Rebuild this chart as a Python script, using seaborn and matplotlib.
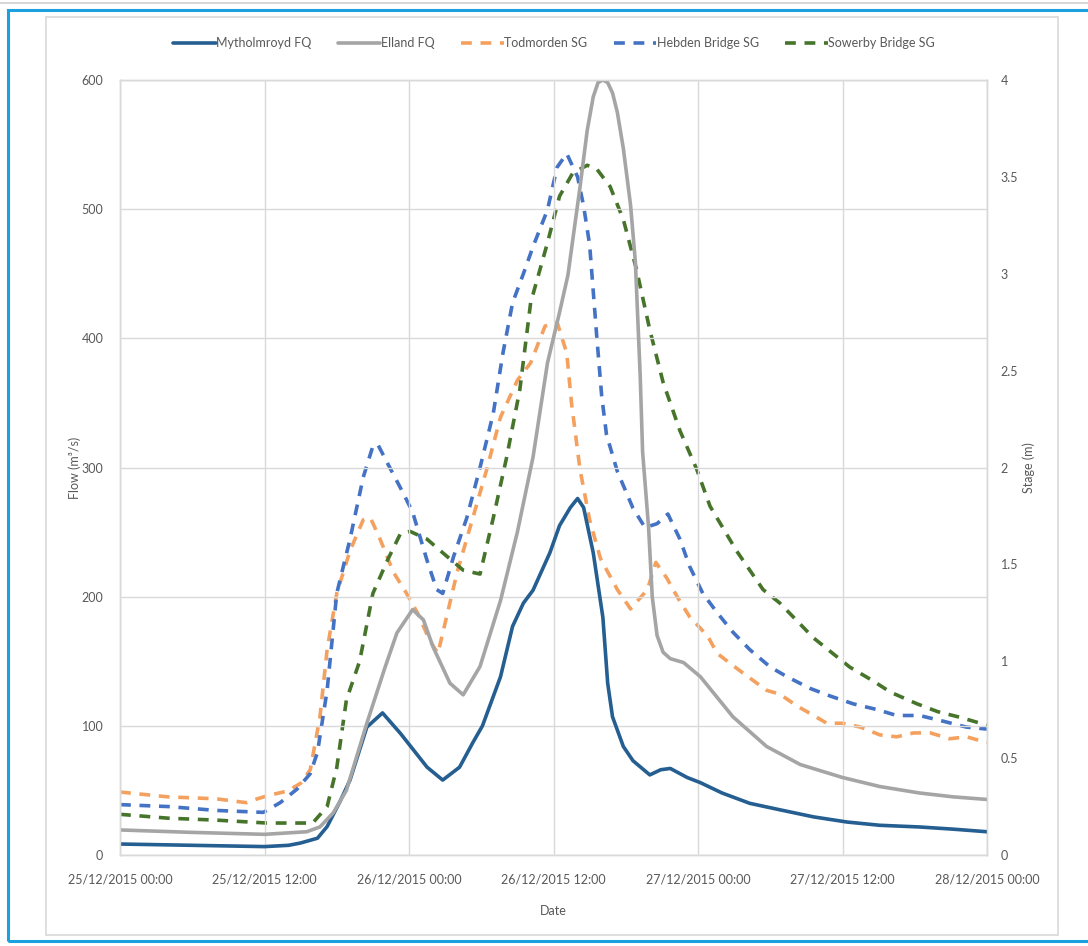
import numpy as np
import pandas as pd
import matplotlib
matplotlib.use("Agg")
import matplotlib.pyplot as plt
import matplotlib.dates as mdates
from matplotlib.patches import Rectangle
from matplotlib.lines import Line2D
from matplotlib.ticker import FuncFormatter, MultipleLocator
import seaborn as sns

# ---------------- data (hours after 25/12/2015 00:00) ----------------
START = pd.Timestamp("2015-12-25 00:00")
END = pd.Timestamp("2015-12-28 00:00")

myth_hours = [0, 6, 12, 14, 15, 16.4, 17.2, 18.3, 19.1, 20.5, 21.8, 23.3, 25.5, 26.8, 28.2,
              29.3, 30.1, 31.6, 32.6, 33.5, 34.3, 35.7, 36.5, 37.4, 38, 38.5, 39.3, 40.1,
              40.5, 40.9, 41.8, 42.6, 44, 44.9, 45.7, 47.1, 48.2, 50, 52.3, 54.8, 57.6,
              60.4, 63.1, 66.4, 69.2, 72]
myth_flow = [8.5, 7.5, 6.5, 7.5, 9.3, 13, 22, 42, 58, 99, 110, 94, 68, 58, 68,
             87, 100, 138, 177, 195, 205, 234, 255, 269, 276, 269, 234, 184,
             133, 107, 84, 73, 62, 66, 67, 60, 56, 48, 40, 35, 29.5,
             25.5, 23, 21.7, 20, 18]

elland_hours = [0, 6, 12, 15.5, 16.6, 17.7, 18.8, 20.5, 22, 23, 24.3, 25.2, 26, 27.4, 28.5,
                29.9, 31.6, 33, 34.3, 35.5, 36.5, 37.2, 38.2, 38.8, 39.3, 39.7, 40.1, 40.5,
                40.9, 41.3, 41.8, 42.4, 42.8, 43.2, 43.4, 43.9, 44.2, 44.6, 45.1, 45.7, 46.8,
                48.2, 50.9, 53.7, 56.5, 60, 63.1, 66.4, 69.2, 72]
elland_flow = [19.4, 17.5, 16, 18, 21.7, 32.5, 50, 102, 145, 172, 190, 182, 161, 133, 124,
               146, 197, 250, 308, 381, 420, 449, 517, 561, 587, 598, 600, 598,
               590, 575, 547, 503, 459, 371, 312, 253, 200, 170, 157, 152, 149,
               138, 107, 84, 70, 60, 53, 48, 45, 43]

tod_hours = [0, 4, 8, 10.5, 11.4, 12.5, 13.9, 15, 15.8, 16.6, 17.2, 18, 19.1, 20.2, 20.8,
             21.6, 22.7, 23.8, 24.7, 25.7, 26.4, 27.2, 28, 29.3, 30.5, 31.6, 33, 34.1,
             35.3, 36.3, 37.1, 37.5, 38.2, 39, 39.9, 41.3, 42.4, 43.8, 44.5, 45.4, 46.3,
             47.3, 48.8, 49.6, 51.5, 53.7, 54.8, 56.2, 57.6, 58.7, 60, 61.5, 63.1, 64.5,
             65.9, 67.3, 68.9, 70.3, 72]
tod_stage = [0.325, 0.30, 0.29, 0.27, 0.29, 0.31, 0.33, 0.37, 0.44, 0.71, 1.06, 1.35, 1.57, 1.73, 1.74,
             1.63, 1.46, 1.35, 1.25, 1.11, 1.04, 1.25, 1.46, 1.74, 2.0, 2.26, 2.45, 2.54,
             2.73, 2.75, 2.59, 2.33, 1.99, 1.73, 1.53, 1.37, 1.27, 1.37, 1.51, 1.43, 1.33,
             1.23, 1.13, 1.04, 0.95, 0.85, 0.83, 0.77, 0.72, 0.68, 0.68, 0.66, 0.62, 0.61,
             0.63, 0.63, 0.60, 0.61, 0.58]

heb_hours = [0, 4, 8, 11.9, 13.3, 14.7, 15.8, 16.4, 17.2, 18, 19.1, 20.2, 21, 21.4, 22.4,
             23.5, 24.3, 25.5, 26.3, 26.8, 27.7, 28.8, 29.9, 31, 31.8, 32.6, 33.5, 34.3,
             35.5, 36.3, 37.1, 38, 38.5, 39.0, 39.6, 40.0, 40.4, 41.3, 42.6, 43.6, 44.6,
             45.5, 46.5, 47.3, 48.4, 49.6, 50.9, 52.3, 54, 55.4, 57.3, 59, 60.9, 62.9, 64.5,
             66.4, 68.4, 70.3, 72]
heb_stage = [0.26, 0.25, 0.23, 0.22, 0.27, 0.34, 0.42, 0.53, 0.85, 1.35, 1.63, 1.95, 2.11, 2.12, 2.0,
             1.87, 1.77, 1.52, 1.37, 1.35, 1.54, 1.74, 2.0, 2.28, 2.59, 2.85, 3.0, 3.14,
             3.33, 3.55, 3.62, 3.5, 3.35, 3.15, 2.67, 2.37, 2.17, 1.98, 1.79, 1.69, 1.71,
             1.76, 1.63, 1.49, 1.35, 1.25, 1.15, 1.06, 0.97, 0.92, 0.86, 0.82, 0.78, 0.75, 0.72,
             0.72, 0.69, 0.66, 0.65]

sow_hours = [0, 4, 8, 12.2, 16, 17.2, 18, 18.8, 19.9, 21, 22.2, 23.3, 24.1, 25.5, 26.8,
             28.5, 29.9, 31, 32.1, 33.2, 34.1, 35.5, 36.5, 37.6, 38.8, 39.6, 40.7, 41.8,
             42.9, 44, 45.1, 46.5, 47.9, 49, 51.2, 53.4, 54.8, 57.6, 59.2, 60.6, 62.5,
             64, 66.2, 67.9, 69.8, 72]
sow_stage = [0.21, 0.19, 0.18, 0.165, 0.165, 0.25, 0.45, 0.8, 1.0, 1.35, 1.52, 1.66, 1.67, 1.63, 1.56,
             1.47, 1.45, 1.74, 2.05, 2.4, 2.85, 3.16, 3.4, 3.52, 3.56, 3.54, 3.45, 3.28,
             3.02, 2.71, 2.44, 2.19, 1.99, 1.8, 1.57, 1.37, 1.30, 1.12, 1.04, 0.97, 0.9,
             0.84, 0.78, 0.74, 0.71, 0.67]

flow_series = [("Mytholmroyd FQ", myth_hours, myth_flow, "#255e91"),
               ("Elland FQ", elland_hours, elland_flow, "#a5a5a5")]
stage_series = [("Todmorden SG", tod_hours, tod_stage, "#f4a15f"),
                ("Hebden Bridge SG", heb_hours, heb_stage, "#4472c4"),
                ("Sowerby Bridge SG", sow_hours, sow_stage, "#47742b")]

# ---------------- style ----------------
sns.set_style("white")
plt.rcParams["font.family"] = ["Lato", "DejaVu Sans"]
TXT = "#595959"
GRID = "#d9d9d9"
FS = 9.0

fig = plt.figure(figsize=(10.88, 9.46), dpi=100)
ax = fig.add_axes([120 / 1088, 1 - 855 / 946, (987 - 120) / 1088, (855 - 80) / 946])
ax2 = ax.twinx()

def to_df(hours, vals):
    return pd.DataFrame({"time": START + pd.to_timedelta(np.array(hours), unit="h"),
                         "value": vals})

dash = (0, (3.0, 2.4))
for name, hrs, vals, col in stage_series:
    sns.lineplot(data=to_df(hrs, vals), x="time", y="value", ax=ax2, color=col,
                 linewidth=2.6, linestyle=dash, label=name, estimator=None, sort=False)
for name, hrs, vals, col in flow_series:
    sns.lineplot(data=to_df(hrs, vals), x="time", y="value", ax=ax, color=col,
                 linewidth=2.6, label=name, estimator=None, sort=False)

ax.set_zorder(ax2.get_zorder() + 1)
ax.patch.set_visible(False)

ax.set_xlim(START, END)
ax.set_ylim(0, 600)
ax2.set_ylim(0, 4)
ax.yaxis.set_major_locator(MultipleLocator(100))
ax2.yaxis.set_major_locator(MultipleLocator(0.5))
ax2.yaxis.set_major_formatter(FuncFormatter(lambda v, p: f"{v:g}"))
ax.xaxis.set_major_locator(mdates.HourLocator(byhour=[0, 12]))
ax.xaxis.set_major_formatter(mdates.DateFormatter("%d/%m/%Y %H:%M"))

ax.grid(True, color=GRID, linewidth=1.0)
ax2.grid(False)
for a in (ax, ax2):
    for s in a.spines.values():
        s.set_color(GRID)
        s.set_linewidth(1.0)
    a.tick_params(length=0, labelsize=FS, labelcolor=TXT)
ax.tick_params(axis="y", pad=12)
ax.tick_params(axis="x", pad=13)
ax2.tick_params(axis="y", pad=10)

ax.set_xlabel("Date", fontsize=FS, color=TXT, labelpad=14)
ax.set_ylabel("Flow (m³/s)", fontsize=FS, color=TXT, labelpad=0)
ax2.set_ylabel("Stage (m)", fontsize=FS, color=TXT, labelpad=3)

for a in (ax, ax2):
    lg = a.get_legend()
    if lg is not None:
        lg.remove()

handles = [Line2D([], [], color=c, lw=2.6) for _, _, _, c in flow_series] + \
          [Line2D([], [], color=c, lw=2.6, linestyle=dash) for _, _, _, c in stage_series]
labels = [n for n, _, _, _ in flow_series] + [n for n, _, _, _ in stage_series]
fig.legend(handles, labels, loc="center", bbox_to_anchor=(554 / 1088, 1 - 43 / 946),
           ncol=5, frameon=False, fontsize=FS, handlelength=3.4, handletextpad=0.05,
           columnspacing=2.1, labelcolor=TXT)

# decorative frames
fig.add_artist(Line2D([0, 1], [1 - 3 / 946, 1 - 3 / 946], color="#d0d0d0", lw=1.2,
                      transform=fig.transFigure))
fig.add_artist(Rectangle((46 / 1088, 1 - 935 / 946), (1058 - 46) / 1088, (935 - 17) / 946,
                         transform=fig.transFigure, fill=False, edgecolor=GRID, lw=1.2))
fig.add_artist(Rectangle((8 / 1088, 1 - 941 / 946), 1.2, (941 - 10) / 946,
                         transform=fig.transFigure, fill=False, edgecolor="#1ba1dd", lw=2.2))

fig.savefig("out.png", dpi=100, facecolor="white")
